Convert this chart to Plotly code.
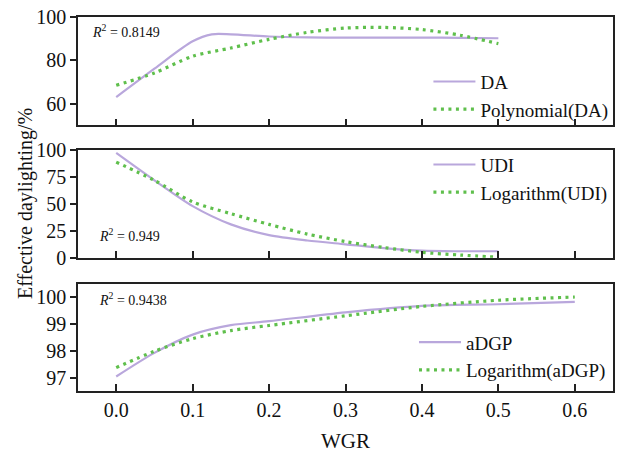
import plotly.graph_objects as go

# ---- data ----
wgr_da = [0.0, 0.05, 0.1, 0.125, 0.15, 0.2, 0.25, 0.3, 0.35, 0.4, 0.45, 0.5]
da = [63.1, 76.2, 88.8, 92.0, 92.0, 91.0, 90.6, 90.5, 90.5, 90.5, 90.4, 90.2]
wgr_poly = [0.0, 0.05, 0.1, 0.15, 0.2, 0.25, 0.3, 0.35, 0.4, 0.45, 0.5]
da_poly = [68.5, 74.2, 81.9, 85.7, 89.7, 92.9, 94.9, 95.2, 94.2, 91.6, 87.7]

wgr_udi = [0.0, 0.05, 0.1, 0.15, 0.2, 0.25, 0.3, 0.35, 0.4, 0.45, 0.5]
udi = [97.5, 72.0, 48.0, 31.0, 21.0, 16.0, 12.5, 9.0, 6.5, 6.0, 6.0]
udi_log = [89.0, 72.0, 52.0, 41.0, 31.0, 22.0, 15.0, 9.5, 5.0, 2.5, 0.5]

wgr_dgp = [0.0, 0.05, 0.1, 0.15, 0.2, 0.3, 0.4, 0.5, 0.6]
adgp = [97.04, 97.92, 98.6, 98.95, 99.1, 99.43, 99.67, 99.73, 99.82]
adgp_log = [97.37, 97.98, 98.45, 98.75, 98.94, 99.3, 99.65, 99.88, 100.0]

r2_labels = ["0.8149", "0.949", "0.9438"]

PURPLE = "#b9a7dc"
GREEN = "#5fbf4c"
FONT = "Liberation Serif"
TXT = "#111111"
AX = "#222222"

fig = go.Figure()

def solid(x, y, name, xa, ya, leg):
    fig.add_trace(go.Scatter(x=x, y=y, mode="lines", name=name, xaxis=xa, yaxis=ya,
                             legend=leg, line=dict(color=PURPLE, width=2.2, shape="spline", smoothing=0.8)))

def dotted(x, y, name, xa, ya, leg):
    fig.add_trace(go.Scatter(x=x, y=y, mode="lines", name=name, xaxis=xa, yaxis=ya,
                             legend=leg, line=dict(color=GREEN, width=3.2, dash="3px,4.5px",
                                                   shape="spline", smoothing=0.8)))

solid(wgr_da, da, "DA", "x", "y", "legend")
dotted(wgr_poly, da_poly, "Polynomial(DA)", "x", "y", "legend")
solid(wgr_udi, udi, "UDI", "x2", "y2", "legend2")
dotted(wgr_udi, udi_log, "Logarithm(UDI)", "x2", "y2", "legend2")
solid(wgr_dgp, adgp, "aDGP", "x3", "y3", "legend3")
dotted(wgr_dgp, adgp_log, "Logarithm(aDGP)", "x3", "y3", "legend3")

TF = dict(family=FONT, size=20, color=TXT)

xcommon = dict(range=[-0.05, 0.65], tickvals=[0, 0.1, 0.2, 0.3, 0.4, 0.5, 0.6],
               ticks="inside", ticklen=7, tickwidth=1.5, tickcolor=AX,
               showline=True, linecolor=AX, linewidth=1.5, mirror=True,
               showgrid=False, zeroline=False)
ycommon = dict(ticks="outside", ticklen=6, tickwidth=1.5, tickcolor=AX,
               showline=True, linecolor=AX, linewidth=1.5, mirror=True,
               showgrid=False, zeroline=False, tickfont=TF)

d1 = [0.7101, 1.0]
d2 = [0.3564, 0.6436]
d3 = [0.0, 0.2872]

legcommon = dict(font=dict(family=FONT, size=19, color=TXT), bgcolor="rgba(0,0,0,0)",
                 xanchor="left", yanchor="top", itemwidth=42)

fig.update_layout(
    width=621, height=455,
    margin=dict(l=78, r=6, t=15, b=64),
    paper_bgcolor="white", plot_bgcolor="white",
    font=dict(family=FONT, color=TXT),
    showlegend=True,
    xaxis=dict(**xcommon, domain=[0, 1], anchor="y", showticklabels=False, matches="x3"),
    yaxis=dict(**ycommon, domain=d1, anchor="x", range=[50, 100], tickvals=[60, 80, 100]),
    xaxis2=dict(**xcommon, domain=[0, 1], anchor="y2", showticklabels=False, matches="x3"),
    yaxis2=dict(**ycommon, domain=d2, anchor="x2", range=[0, 100], tickvals=[0, 25, 50, 75, 100]),
    xaxis3=dict(**xcommon, domain=[0, 1], anchor="y3", tickformat=".1f", tickfont=TF,
                title=dict(text="WGR", font=dict(family=FONT, size=21, color=TXT), standoff=14)),
    yaxis3=dict(**ycommon, domain=d3, anchor="x3", range=[96.5, 100.5], tickvals=[97, 98, 99, 100]),
    legend=dict(**legcommon, x=0.655, y=0.878),
    legend2=dict(**legcommon, x=0.655, y=0.656),
    legend3=dict(**legcommon, x=0.628, y=0.181),
)

fig.add_annotation(text="Effective daylighting/%", xref="paper", yref="paper", x=-0.099, y=0.5,
                   textangle=-90, showarrow=False, font=dict(size=20, family=FONT, color=TXT),
                   xanchor="center", yanchor="middle")

r2_pos = [(90, 29), (97, 234), (97, 299)]
for lab, (px, py) in zip(r2_labels, r2_pos):
    fig.add_annotation(text=f"<i>R</i><sup>2</sup> = {lab}", xref="paper", yref="paper",
                       x=(px - 78) / 537, y=(391 - py) / 376, xanchor="left", yanchor="middle",
                       showarrow=False, font=dict(size=14, family=FONT, color=TXT))

fig.write_html("out.html")
